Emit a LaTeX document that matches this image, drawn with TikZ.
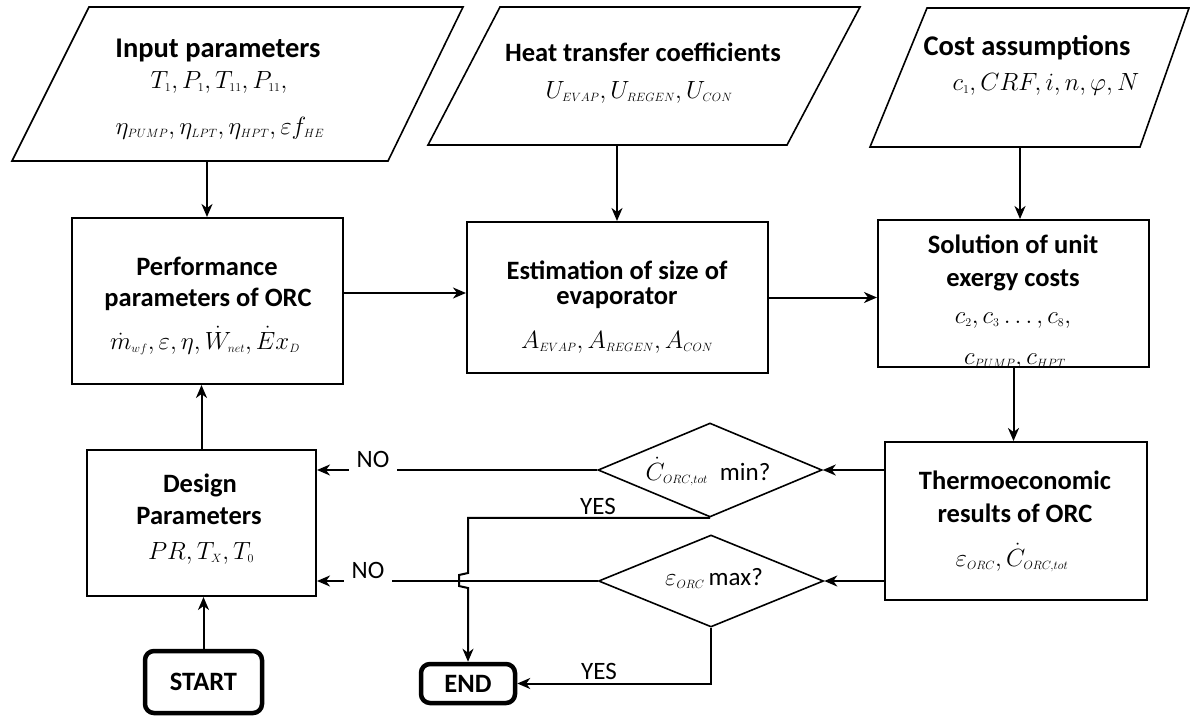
\documentclass[tikz,border=0pt]{standalone}
\usepackage[no-math]{fontspec}
\setmainfont{Carlito}
\usetikzlibrary{arrows.meta,shapes.geometric,calc}
\DeclareMathSizes{24}{24}{13}{10}
\begin{document}
\begin{tikzpicture}[x=1pt,y=-1pt,
  box/.style={draw,line width=2pt,inner sep=0pt},
  term/.style={draw,line width=4.5pt,rounded corners=9pt,inner sep=0pt,font=\fontsize{26.5}{30}\selectfont\bfseries},
  dec/.style={draw,diamond,line width=1.6pt,inner sep=0pt},
  para/.style={line width=1.6pt,line join=miter},
  arr/.style={line width=2pt,-{Stealth[length=13pt,width=11pt,inset=4pt]}},
  ttl/.style={font=\fontsize{26.5}{30}\selectfont\bfseries,anchor=base,inner sep=0pt},
  bigttl/.style={font=\fontsize{28.5}{32}\selectfont\bfseries,anchor=base,inner sep=0pt},
  mth/.style={font=\fontsize{24}{28}\selectfont,text=black,anchor=base,inner sep=0pt},
  lbl/.style={font=\fontsize{25}{30}\selectfont,anchor=base,inner sep=0pt},
]
\useasboundingbox (0,0) rectangle (1190,717);

% ---- input parallelograms
\draw[para] (12,161) -- (388,161) -- (463,7) -- (89,7) -- cycle;
\draw[para] (428,145) -- (787,145) -- (860,7) -- (500,7) -- cycle;
\draw[para] (870,147) -- (1140,147) -- (1189,8) -- (927,8) -- cycle;
\coordinate (inB) at (207,161);
\coordinate (heatB) at (617,145);
\coordinate (costB) at (1020,147);

\node[bigttl] (inT) at (218,57) {Input parameters};
\node[mth] (inM1) at (219,88) {$T_1, P_1, T_{11}, P_{11},$};
\node[mth] (inM2) at (220,134) {$\eta_{PUMP}, \eta_{LPT}, \eta_{HPT}, \varepsilon f_{HE}$};

\node[ttl] (heatT) at (643,61) {Heat transfer coefficients};
\node[mth] (heatM) at (639,98) {$U_{EVAP}, U_{REGEN}, U_{CON}$};

\node[bigttl] (costT) at (1027,56) {Cost assumptions};
\node[mth] (costM) at (1046,90) {$c_1, CRF, i, n, \varphi, N$};

% ---- process boxes
\node[box,minimum width=271,minimum height=166] (perf) at (207.5,301) {};
\node[ttl] (perfT1) at (207,275) {Performance};
\node[ttl] (perfT2) at (208,306) {parameters of ORC};
\node[mth] (perfM) at (205,349) {$\dot m_{wf}, \varepsilon, \eta, \dot W_{net}, \dot E x_D$};

\node[box,minimum width=301,minimum height=151] (est) at (617.5,297.5) {};
\node[ttl] (estT1) at (617,279) {Estimation of size of};
\node[ttl] (estT2) at (617,304) {evaporator};
\node[mth] (estM) at (617,348) {$A_{EVAP}, A_{REGEN}, A_{CON}$};

\node[box,minimum width=271,minimum height=147] (sol) at (1013.5,293.5) {};
\node[ttl] (solT1) at (1013,253) {Solution of unit};
\node[ttl] (solT2) at (1013,286) {exergy costs};
\node[mth] (solM1) at (1013,323) {$c_2, c_3 \ldots, c_8,$};
\begin{scope}
  \clip ($(sol.south west)+(1,-1)$) rectangle ($(sol.north east)+(-1,1)$);
  \node[mth] (solM2) at (1015,364) {$c_{PUMP}, c_{HPT}$};
\end{scope}

\node[box,minimum width=262,minimum height=158] (thermo) at (1016,521) {};
\node[ttl] (thT1) at (1015,489) {Thermoeconomic};
\node[ttl] (thT2) at (1015,522) {results of ORC};
\node[mth] (thM) at (1012,566) {$\varepsilon_{ORC}, \dot C_{ORC,tot}$};

\node[box,minimum width=229,minimum height=146] (design) at (201.5,523) {};
\node[ttl] (desT1) at (200,492) {Design};
\node[ttl] (desT2) at (199,524) {Parameters};
\node[mth] (desM) at (201,559) {$PR, T_X, T_0$};

% ---- decisions
\node[dec,minimum width=224,minimum height=94] (d1) at (710,470) {};
\node[mth] (d1T) at (708,480) {$\dot C_{ORC,tot}$\hspace{12pt}\fontsize{25}{30}\selectfont min?};
\node[dec,minimum width=225,minimum height=92] (d2) at (711,581) {};
\node[mth] (d2T) at (714,585) {$\varepsilon_{ORC}$\hspace{4pt}\fontsize{25}{30}\selectfont max?};

% ---- terminals
\node[term,minimum width=117,minimum height=62] (start) at (203.5,682) {START};
\node[term,minimum width=94,minimum height=39] (end) at (468,683.5) {END};

% ---- connectors
\draw[arr] (inB) -- (inB |- perf.north);
\draw[arr] (heatB) -- (heatB |- est.north);
\draw[arr] (costB) -- (costB |- sol.north);
\draw[arr] ([yshift=8pt]perf.east) -- ([yshift=8pt]perf.east -| est.west);
\draw[arr] (est.east) -- (est.east -| sol.west);
\draw[arr] (sol.south) -- (sol.south |- thermo.north);
\draw[arr] (thermo.west |- d1.east) -- (d1.east);
\draw[arr] (thermo.west |- d2.east) -- (d2.east);
\draw[arr] (d1.west) -- (d1.west -| design.east);
\draw[arr] (d2.west) -- (d2.west -| design.east);
\draw[arr] (start.north) -- (start.north |- design.south);
\draw[arr] (design.north) -- (design.north |- perf.south);
\coordinate (J) at (end.north |- d2.west);
\draw[arr] (d1.south) -- (d1.south -| end.north) -- ($(J)+(0,-8)$) -- ($(J)+(-9,-6)$) -- ($(J)+(-9,5)$) -- ($(J)+(0,7)$) -- (end.north);
\draw[arr] (d2.south) |- (end.east);

% ---- labels
\node[lbl,fill=white,inner xsep=8pt,inner ysep=6pt] (no1) at (373,467) {NO};
\node[lbl,fill=white,inner xsep=8pt,inner ysep=6pt] (no2) at (368,578) {NO};
\node[lbl] (yes1) at (598,514) {YES};
\node[lbl] (yes2) at (599,679) {YES};
\end{tikzpicture}
\end{document}
